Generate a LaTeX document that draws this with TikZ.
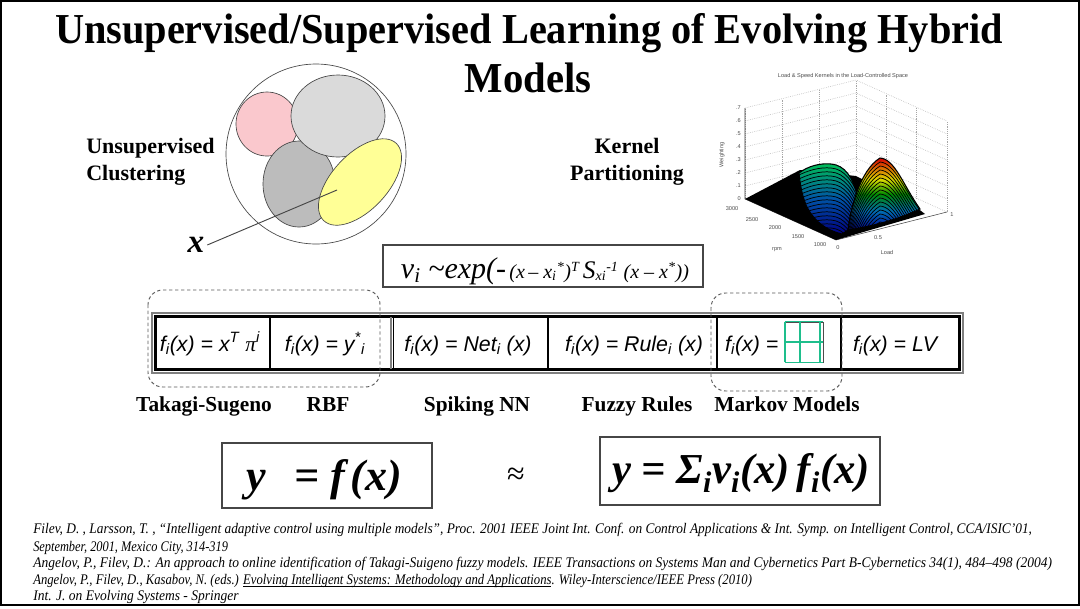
\documentclass[tikz,border=0pt]{standalone}
\usepackage{fontspec}
\setmainfont{Liberation Serif}
\setsansfont{Liberation Sans}
\newfontfamily\grk{Liberation Serif}
\usepackage{graphicx}
\usetikzlibrary{calc}
\definecolor{pinkc}{RGB}{250,200,205}
\definecolor{lgrayc}{RGB}{218,218,218}
\definecolor{dgrayc}{RGB}{188,188,188}
\definecolor{yellc}{RGB}{255,255,150}
\definecolor{gridgreen}{RGB}{30,190,140}
\definecolor{outline}{RGB}{70,70,70}
\pgfdeclareverticalshading{jetbump}{100bp}{color(0bp)=(blue!55!black); color(25bp)=(blue!55!black); color(38bp)=(cyan!60!blue!70!black); color(50bp)=(green!55!black); color(60bp)=(yellow!85!black); color(68bp)=(orange!85!black); color(75bp)=(red!85!black); color(100bp)=(red!85!black)}
\pgfdeclareverticalshading{leftbump}{100bp}{color(0bp)=(blue!50!black); color(25bp)=(blue!50!black); color(50bp)=(cyan!50!blue!65!black); color(75bp)=(green!55!cyan!75!black); color(100bp)=(green!55!cyan!75!black)}
\newcommand{\myuline}[1]{\setbox0=\hbox{#1}\rlap{\rule[-1.6pt]{\wd0}{0.45pt}}\box0}
\tikzset{
  headfont/.style={font=\fontsize{16.5}{20}\selectfont\bfseries},
  cellfont/.style={font=\fontsize{16}{19}\selectfont\sffamily\itshape},
  catlabel/.style={font=\fontsize{16}{19}\selectfont\bfseries, anchor=base},
  eqbox/.style={draw=outline, line width=0.8pt},
  groupbox/.style={draw=gray!70!black, dashed, dash pattern=on 2.5pt off 2pt, line width=0.7pt, rounded corners=11pt},
  blob/.style={draw=outline, line width=0.5pt},
  griddot/.style={gray!70, densely dotted, line width=0.4pt},
  contour/.style={black, line width=0.55pt},
  tiny/.style={font=\fontsize{4.2}{5}\selectfont\sffamily, text=gray!60!black, inner sep=0pt},
  refline/.style={anchor=base west, inner sep=0pt, font=\fontsize{11}{13}\selectfont\itshape},
}
\begin{document}
\begin{tikzpicture}[x=0.75pt,y=-0.75pt]
\useasboundingbox (0,0) rectangle (1080,608);
\fill[white] (0,0) rectangle (1080,608);
\draw[line width=1.5pt] (1,1) rectangle (1079,605);

% title
\node[anchor=base, inner sep=0pt] (title1) at (529,43) {\resizebox{711pt}{\height}{\fontsize{32}{38}\selectfont\bfseries Unsupervised/Supervised Learning of Evolving Hybrid}};
\node[anchor=base, inner sep=0pt] (title2) at (528,92) {\resizebox{95pt}{\height}{\fontsize{32}{38}\selectfont\bfseries Models}};

% clustering
\node[headfont, anchor=base west, align=left, inner sep=0pt] (unsup) at (86,180) {Unsupervised\\Clustering};
\draw[blob] (316,154) circle (90);
\filldraw[blob, fill=pinkc] (267,124) ellipse (31 and 32);
\filldraw[blob, fill=dgrayc] (299,184) ellipse (36 and 43);
\filldraw[blob, fill=lgrayc] (338,116) ellipse (47 and 41);
\filldraw[blob, fill=yellc, rotate around={47:(360,182)}] (360,182) ellipse (53 and 28);
\node[font=\fontsize{25}{28}\selectfont\bfseries\itshape, inner sep=2pt] (xlab) at (196,245) {x};
\coordinate (xpt) at (337,190);
\draw[outline, line width=0.7pt] (xlab.east) -- (xpt);

% kernel partitioning
\node[headfont, anchor=base, align=center, inner sep=0pt] (kern) at (627,180) {Kernel\\Partitioning};

% 3D plot
\coordinate (A) at (745,199);
\coordinate (B) at (836,240);
\coordinate (C) at (947,212);
\coordinate (D) at (856,171);
\coordinate (At) at (745,108);
\coordinate (Dt) at (856,80);
\coordinate (Ct) at (947,121);
\foreach \t in {0,0.333,0.667,1} {
  \draw[griddot] ($(A)!\t!(D)$) -- ($(At)!\t!(Dt)$);
  \draw[griddot] ($(D)!\t!(C)$) -- ($(Dt)!\t!(Ct)$);
}
\foreach \z in {0,1,...,7} {
  \draw[griddot] ($(A)!\z/7!(At)$) -- ($(D)!\z/7!(Dt)$) -- ($(C)!\z/7!(Ct)$);
}
\draw[gray!50!black, line width=0.4pt] (At) -- (A) -- (B) -- (C);
\fill[black] (A) -- (B) -- (925,214) -- (912,204) -- (856,176) -- (800,170) -- cycle;
% left bump
\def\lbump{(799,173) .. controls (808,166) and (820,163) .. (831,164) .. controls (845,165) and (853,178) .. (857,195) .. controls (861,212) and (856,226) .. (842,234) .. controls (825,230) and (813,220) .. (806,205) .. controls (801,192) and (800,182) .. (799,173) -- cycle}
\shade[shading=leftbump] \lbump;
\begin{scope}
  \clip \lbump;
  \foreach \k in {1,...,16} {
    \draw[contour] (795,173+4*\k) .. controls (808,166+4*\k) and (820,163+4*\k) .. (831,164+4*\k) .. controls (845,165+4*\k) and (853,178+4*\k) .. (860,195+4*\k);
  }
\end{scope}
\draw[black, line width=0.8pt] \lbump;
% right bump
\def\rbump{(848,230) .. controls (850,210) and (860,170) .. (880,158) .. controls (895,159) and (903,185) .. (920,209) .. controls (903,217) and (880,225) .. (848,230) -- cycle}
\shade[shading=jetbump] \rbump;
\begin{scope}
  \clip \rbump;
  \foreach \k in {1,...,17} {
    \draw[contour] (846,230+4*\k) .. controls (850,210+4*\k) and (860,170+4*\k) .. (880,158+4*\k) .. controls (895,159+4*\k) and (903,185+4*\k) .. (922,209+4*\k);
  }
\end{scope}
\draw[black, line width=0.8pt] \rbump;
\node[tiny, anchor=base] (ptitle) at (843,77) {Load \& Speed Kernels in the Load-Controlled Space};
\foreach \z/\lab in {0/0,1/.1,2/.2,3/.3,4/.4,5/.5,6/.6,7/.7} {
  \node[tiny, anchor=east] at ($(A)!\z/7!(At) + (-4,0)$) {\lab};
}
\node[tiny, rotate=90] (zlab) at (722,155) {Weighting};
\node[tiny] at (732,209) {3000};
\node[tiny] at (752,220) {2500};
\node[tiny] at (775,228) {2000};
\node[tiny] at (798,237) {1500};
\node[tiny] at (820,245) {1000};
\node[tiny] at (777,250) {rpm};
\node[tiny] at (838,248) {0};
\node[tiny] at (878,238) {0.5};
\node[tiny] at (952,215) {1};
\node[tiny] at (887,252) {Load};

% v_i equation
\node[eqbox, minimum width=240pt, minimum height=31.5pt, inner sep=0pt] (veq) at (543,266) {};
\node[anchor=base, inner sep=0pt] (vtext) at (545,278) {\itshape{\fontsize{22.5}{24}\selectfont v\textsubscript{i} \textasciitilde exp(-} {\fontsize{15}{17}\selectfont (x\,– x\textsubscript{i}\textsuperscript{*})\textsuperscript{T}} {\fontsize{19}{20}\selectfont S}{\fontsize{15}{17}\selectfont\textsubscript{xi}\textsuperscript{-1} (x – x\textsuperscript{*}))}};

% table row
\draw[gray, line width=0.9pt] (152,313) rectangle (963,373);
\draw[black, line width=2.3pt] (155.5,316.5) rectangle (959.5,369.5);
\foreach \xx in {270,548,717,841} \draw[black, line width=0.8pt] (\xx,317) -- (\xx,369);
\draw[gray, line width=0.8pt] (391,317) -- (391,369);
\draw[black, line width=0.8pt] (393.5,317) -- (393.5,369);
\node[cellfont, anchor=base] (c1) at (210,351) {f\textsubscript{i}(x) = x\textsuperscript{T} {\grk\itshape π}\textsuperscript{i}};
\node[cellfont, anchor=base] (c2) at (325,351) {f\textsubscript{i}(x) = y\textsuperscript{*}\textsubscript{i}};
\node[cellfont, anchor=base] (c3) at (468,351) {f\textsubscript{i}(x) = Net\textsubscript{i} (x)};
\node[cellfont, anchor=base] (c4) at (634,351) {f\textsubscript{i}(x) = Rule\textsubscript{i} (x)};
\node[cellfont, anchor=base east] (c5) at (783,351) {f\textsubscript{i}(x) =};
\node[cellfont, anchor=base] (c6) at (895,351) {f\textsubscript{i}(x) = LV};
% Markov grid
\node[draw=gray!60!black, line width=0.5pt, minimum width=28.5pt, minimum height=30pt, inner sep=0pt] (mgrid) at (804,342) {};
\draw[gridgreen, line width=1.4pt] (mgrid.north west) -- (mgrid.south west);
\draw[gridgreen, line width=1.4pt] ($(mgrid.north west)!0.4!(mgrid.north east)$) -- ($(mgrid.south west)!0.4!(mgrid.south east)$);
\draw[gridgreen, line width=1.4pt] ($(mgrid.north west)!0.92!(mgrid.north east)$) -- ($(mgrid.south west)!0.92!(mgrid.south east)$);
\draw[gridgreen, line width=1.4pt] (mgrid.west) -- (mgrid.east);
\draw[gridgreen, line width=1.2pt] (mgrid.north west) -- (mgrid.north east);
\draw[gridgreen, line width=1.2pt] (mgrid.south west) -- (mgrid.south east);

% groups
\draw[groupbox] (148,290) rectangle (380,387);
\draw[groupbox] (711,293) rectangle (842,391);

% category labels
\node[catlabel] (l1) at (204,411) {Takagi-Sugeno};
\node[catlabel] (l2) at (328,411) {RBF};
\node[catlabel] (l3) at (477,411) {Spiking NN};
\node[catlabel] (l4) at (637,411) {Fuzzy Rules};
\node[catlabel] (l5) at (787,411) {Markov Models};

% bottom equations
\node[eqbox, minimum width=157.5pt, minimum height=48.75pt, inner sep=0pt] (eq1) at (327,475.5) {};
\node[anchor=base, inner sep=0pt, font=\fontsize{33}{36}\selectfont\bfseries\itshape] (eq1t) at (324,490) {y\hspace{0.65em}= f\hspace{0.12em}(x)};
\node[font=\fontsize{24}{26}\selectfont] (approx) at (516,476) {≈};
\node[eqbox, minimum width=210pt, minimum height=51pt, inner sep=0pt] (eq2) at (740,471) {};
\node[anchor=base, inner sep=0pt, font=\fontsize{32}{36}\selectfont\bfseries\itshape] (eq2t) at (741,483) {y = Σ\textsubscript{i}v\textsubscript{i}(x)\,f\textsubscript{i}(x)};

% references
\node[refline] (r1) at (33,533) {\resizebox{749pt}{\height}{Filev, D. , Larsson, T. , “Intelligent adaptive control using multiple models”, Proc. 2001 IEEE Joint Int. Conf. on Control Applications \& Int. Symp. on Intelligent Control, CCA/ISIC'01,}};
\node[refline] (r2) at (33,551) {\resizebox{146pt}{\height}{September, 2001, Mexico City, 314-319}};
\node[refline] (r3) at (33,567) {\resizebox{764pt}{\height}{Angelov, P., Filev, D.: An approach to online identification of Takagi-Suigeno fuzzy models. IEEE Transactions on Systems Man and Cybernetics Part B-Cybernetics 34(1), 484–498 (2004)}};
\node[refline] (r4) at (33,584) {\resizebox{539pt}{\height}{Angelov, P., Filev, D., Kasabov, N. (eds.) \myuline{Evolving Intelligent Systems: Methodology and Applications}. Wiley-Interscience/IEEE Press (2010)}};
\node[refline] (r5) at (33,600) {\resizebox{154pt}{\height}{Int. J. on Evolving Systems - Springer}};
\end{tikzpicture}
\end{document}
